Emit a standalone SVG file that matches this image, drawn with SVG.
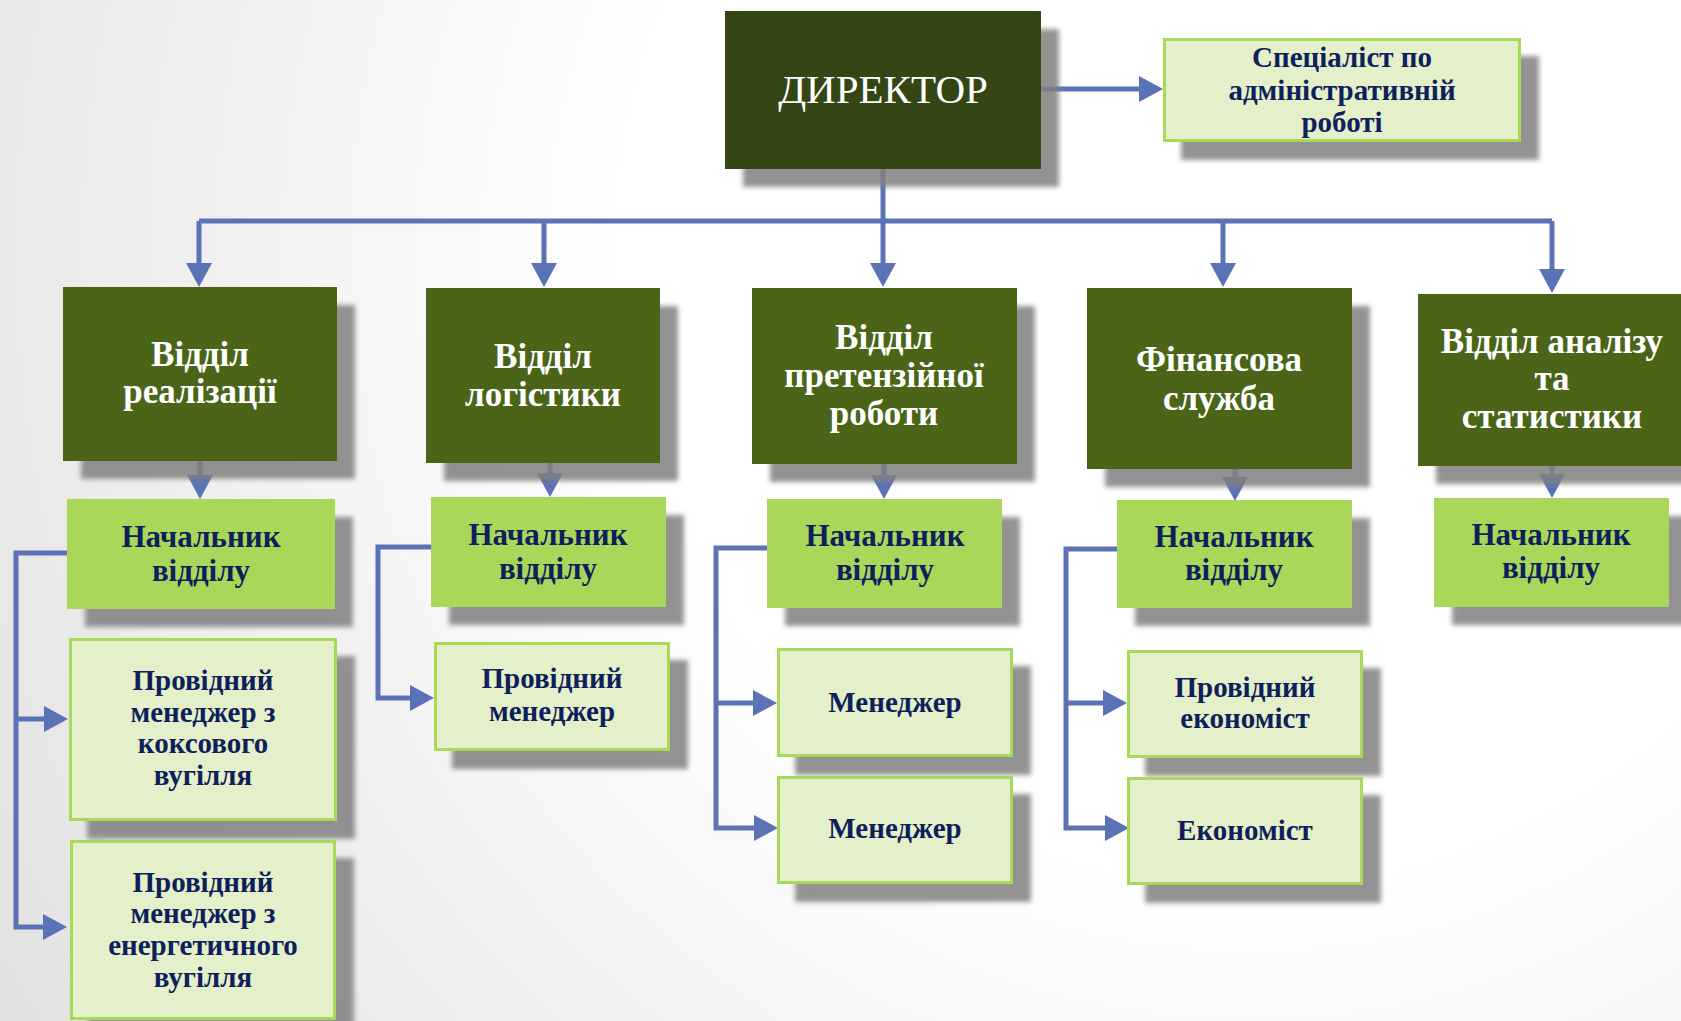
<svg xmlns="http://www.w3.org/2000/svg" width="1681" height="1021" viewBox="0 0 1681 1021">
  <defs>
    <radialGradient id="bg" gradientUnits="userSpaceOnUse" cx="1250" cy="250" r="1500">
      <stop offset="0" stop-color="#ffffff"/>
      <stop offset="0.42" stop-color="#ffffff"/>
      <stop offset="1" stop-color="#e0e0e0"/>
    </radialGradient>
    <filter id="blur" x="-10%" y="-10%" width="120%" height="120%">
      <feGaussianBlur stdDeviation="2.5"/>
    </filter>
    <marker id="arr" markerUnits="userSpaceOnUse" markerWidth="26" markerHeight="28" refX="14" refY="13" orient="auto">
      <path d="M0,0 L24,13 L0,26 Z" fill="#5b73b6"/>
    </marker>
    <style>
      .conn { fill: none; stroke: #5b73b6; stroke-width: 5; stroke-linejoin: miter; }
      .arrow { marker-end: url(#arr); }
      .shadow { fill: #808080; opacity: 0.85; filter: url(#blur); }
      .dir { fill: #334614; }
      .dept { fill: #4a6518; }
      .head { fill: #aad75a; }
      .sub { fill: #e3f0c9; stroke: #a7d95a; stroke-width: 3; }
      text { font-family: "Liberation Serif", "Times New Roman", serif; text-anchor: middle; }
      .tdir { fill: #ffffff; font-size: 41px; }
      .tdept { fill: #ffffff; font-size: 35px; font-weight: bold; }
      .thead { fill: #0e1f5b; font-size: 31px; font-weight: bold; }
      .tsub { fill: #0e1f5b; font-size: 29px; font-weight: bold; }
    </style>
  </defs>

  <rect x="0" y="0" width="1681" height="1021" fill="url(#bg)"/>

  <g id="connectors">
    <path class="conn arrow" d="M1041,89 H1153"/>
    <path class="conn" d="M199,221 H1552"/>
    <path class="conn arrow" d="M199,221 V277"/>
    <path class="conn arrow" d="M544,221 V277"/>
    <path class="conn arrow" d="M883,169 V277"/>
    <path class="conn arrow" d="M1223,221 V277"/>
    <path class="conn arrow" d="M1552,221 V283"/>

    <path class="conn arrow" d="M200,461 V489"/>
    <path class="conn arrow" d="M550,463 V487"/>
    <path class="conn arrow" d="M884,464 V489"/>
    <path class="conn arrow" d="M1235,469 V491"/>
    <path class="conn arrow" d="M1552,466 V488"/>

    <path class="conn arrow" d="M67,553 H16 V927 H57"/>
    <path class="conn arrow" d="M16,719 H58"/>
    <path class="conn arrow" d="M431,547 H378 V698 H424"/>
    <path class="conn arrow" d="M767,548 H716 V828 H768"/>
    <path class="conn arrow" d="M716,703 H767"/>
    <path class="conn arrow" d="M1117,549 H1066 V828 H1119"/>
    <path class="conn arrow" d="M1066,703 H1117"/>
  </g>

  <g id="director">
    <rect class="shadow" x="743" y="29" width="316" height="158"/>
    <rect class="dir" x="725" y="11" width="316" height="158"/>
    <text class="tdir" x="883" y="103">ДИРЕКТОР</text>
  </g>

  <g id="specialist">
    <rect class="shadow" x="1181" y="56" width="358" height="104"/>
    <rect class="sub" x="1164.5" y="39.5" width="355" height="101"/>
    <text class="tsub" x="1342" y="67">Спеціаліст по</text>
    <text class="tsub" x="1342" y="100">адміністративній</text>
    <text class="tsub" x="1342" y="132">роботі</text>
  </g>

  <g id="dept-sales">
    <rect class="shadow" x="81" y="305" width="274" height="174"/>
    <rect class="dept" x="63" y="287" width="274" height="174"/>
    <text class="tdept" x="200" y="366">Відділ</text>
    <text class="tdept" x="200" y="403">реалізації</text>
  </g>

  <g id="dept-logistics">
    <rect class="shadow" x="444" y="306" width="234" height="175"/>
    <rect class="dept" x="426" y="288" width="234" height="175"/>
    <text class="tdept" x="543" y="368">Відділ</text>
    <text class="tdept" x="543" y="406">логістики</text>
  </g>

  <g id="dept-claims">
    <rect class="shadow" x="770" y="306" width="265" height="176"/>
    <rect class="dept" x="752" y="288" width="265" height="176"/>
    <text class="tdept" x="884" y="349">Відділ</text>
    <text class="tdept" x="884" y="387">претензійної</text>
    <text class="tdept" x="884" y="425">роботи</text>
  </g>

  <g id="dept-finance">
    <rect class="shadow" x="1105" y="306" width="265" height="181"/>
    <rect class="dept" x="1087" y="288" width="265" height="181"/>
    <text class="tdept" x="1219" y="371">Фінансова</text>
    <text class="tdept" x="1219" y="410">служба</text>
  </g>

  <g id="dept-analysis">
    <rect class="shadow" x="1436" y="312" width="270" height="172"/>
    <rect class="dept" x="1418" y="294" width="270" height="172"/>
    <text class="tdept" x="1552" y="353">Відділ аналізу</text>
    <text class="tdept" x="1552" y="390">та</text>
    <text class="tdept" x="1552" y="428">статистики</text>
  </g>

  <g id="head-sales">
    <rect class="shadow" x="85" y="517" width="268" height="110"/>
    <rect class="head" x="67" y="499" width="268" height="110"/>
    <text class="thead" x="201" y="547">Начальник</text>
    <text class="thead" x="201" y="581">відділу</text>
  </g>

  <g id="head-logistics">
    <rect class="shadow" x="449" y="515" width="235" height="110"/>
    <rect class="head" x="431" y="497" width="235" height="110"/>
    <text class="thead" x="548" y="545">Начальник</text>
    <text class="thead" x="548" y="579">відділу</text>
  </g>

  <g id="head-claims">
    <rect class="shadow" x="785" y="517" width="235" height="109"/>
    <rect class="head" x="767" y="499" width="235" height="109"/>
    <text class="thead" x="885" y="546">Начальник</text>
    <text class="thead" x="885" y="580">відділу</text>
  </g>

  <g id="head-finance">
    <rect class="shadow" x="1135" y="518" width="235" height="108"/>
    <rect class="head" x="1117" y="500" width="235" height="108"/>
    <text class="thead" x="1234" y="547">Начальник</text>
    <text class="thead" x="1234" y="580">відділу</text>
  </g>

  <g id="head-analysis">
    <rect class="shadow" x="1452" y="516" width="235" height="109"/>
    <rect class="head" x="1434" y="498" width="235" height="109"/>
    <text class="thead" x="1551" y="545">Начальник</text>
    <text class="thead" x="1551" y="578">відділу</text>
  </g>

  <g id="lead-coking-coal">
    <rect class="shadow" x="87" y="656" width="268" height="183"/>
    <rect class="sub" x="70.5" y="639.5" width="265" height="180"/>
    <text class="tsub" x="203" y="690">Провідний</text>
    <text class="tsub" x="203" y="722">менеджер з</text>
    <text class="tsub" x="203" y="753">коксового</text>
    <text class="tsub" x="203" y="785">вугілля</text>
  </g>

  <g id="lead-energy-coal">
    <rect class="shadow" x="88" y="858" width="266" height="180"/>
    <rect class="sub" x="71.5" y="841.5" width="263" height="177"/>
    <text class="tsub" x="203" y="892">Провідний</text>
    <text class="tsub" x="203" y="923">менеджер з</text>
    <text class="tsub" x="203" y="955">енергетичного</text>
    <text class="tsub" x="203" y="987">вугілля</text>
  </g>

  <g id="lead-manager">
    <rect class="shadow" x="452" y="660" width="236" height="109"/>
    <rect class="sub" x="435.5" y="643.5" width="233" height="106"/>
    <text class="tsub" x="552" y="688">Провідний</text>
    <text class="tsub" x="552" y="721">менеджер</text>
  </g>

  <g id="manager-1">
    <rect class="shadow" x="795" y="666" width="236" height="109"/>
    <rect class="sub" x="778.5" y="649.5" width="233" height="106"/>
    <text class="tsub" x="895" y="712">Менеджер</text>
  </g>

  <g id="manager-2">
    <rect class="shadow" x="795" y="794" width="236" height="108"/>
    <rect class="sub" x="778.5" y="777.5" width="233" height="105"/>
    <text class="tsub" x="895" y="838">Менеджер</text>
  </g>

  <g id="lead-economist">
    <rect class="shadow" x="1145" y="668" width="236" height="108"/>
    <rect class="sub" x="1128.5" y="651.5" width="233" height="105"/>
    <text class="tsub" x="1245" y="697">Провідний</text>
    <text class="tsub" x="1245" y="728">економіст</text>
  </g>

  <g id="economist">
    <rect class="shadow" x="1145" y="795" width="236" height="108"/>
    <rect class="sub" x="1128.5" y="778.5" width="233" height="105"/>
    <text class="tsub" x="1245" y="840">Економіст</text>
  </g>
</svg>
